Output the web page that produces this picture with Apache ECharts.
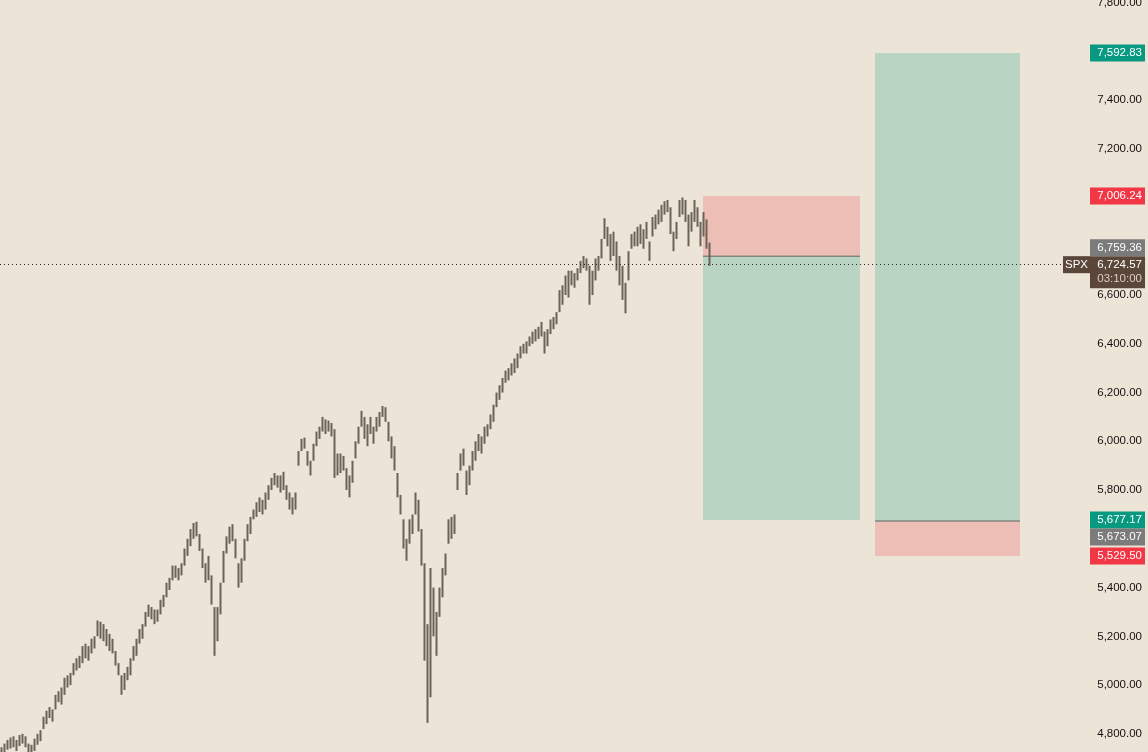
<!DOCTYPE html>
<html><head><meta charset="utf-8">
<script src="https://cdn.jsdelivr.net/npm/echarts@6/dist/echarts.min.js"></script>
<style>html,body{margin:0;padding:0;background:#ece4d7;}#c{width:1148px;height:752px;}</style>
</head><body><div id="c"></div>
<script>
// ---- data ----
const symbol = 'SPX';
const lastPrice = 6724.57;
const countdown = '03:10:00';
const lows = [4700,4715,4735,4740,4745,4730,4750,4760,4745,4715,4705,4730,4755,4770,4820,4840,4865,4850,4900,4930,
4920,4960,4990,5000,5040,5060,5070,5090,5110,5100,5130,5150,5200,5190,5180,5160,5140,5130,5080,5040,
4960,4980,5020,5040,5100,5120,5170,5190,5240,5280,5270,5250,5260,5290,5320,5360,5390,5430,5440,5430,
5450,5490,5530,5570,5600,5610,5550,5480,5420,5430,5330,5120,5180,5290,5420,5540,5580,5590,5520,5400,
5420,5510,5590,5620,5680,5690,5710,5700,5720,5760,5800,5820,5810,5790,5800,5760,5720,5700,5720,5900,
5960,5970,5900,5860,5920,5980,6010,6040,6030,6040,6020,5850,5860,5870,5880,5800,5770,5830,5930,5990,
6060,6010,5980,6030,5990,6040,6060,6100,6080,6000,5930,5880,5770,5700,5560,5510,5580,5620,5700,5630,
5490,5100,4845,4950,5200,5120,5280,5360,5450,5580,5600,5620,5800,5880,5900,5780,5820,5880,5920,5960,
5950,5990,6020,6050,6080,6140,6170,6200,6240,6250,6270,6280,6300,6340,6360,6360,6390,6400,6410,6420,
6430,6360,6390,6440,6460,6480,6530,6560,6600,6590,6640,6630,6660,6690,6710,6700,6560,6600,6660,6700,
6750,6830,6800,6740,6760,6700,6640,6580,6525,6660,6790,6800,6800,6810,6790,6830,6740,6840,6870,6890,
6900,6930,6940,6850,6780,6830,6920,6930,6900,6800,6860,6900,6880,6800,6840,6790,6720];
const highs = [4745,4760,4775,4785,4790,4775,4795,4800,4790,4760,4755,4780,4800,4815,4870,4895,4910,4900,4960,4975,
4990,5030,5040,5050,5090,5110,5120,5160,5170,5160,5190,5200,5265,5260,5250,5230,5210,5190,5140,5090,
5040,5050,5075,5110,5160,5190,5230,5250,5300,5330,5320,5310,5310,5350,5370,5420,5440,5490,5490,5480,
5500,5560,5600,5640,5665,5670,5620,5560,5500,5530,5450,5320,5320,5420,5550,5610,5650,5660,5600,5500,
5520,5600,5660,5690,5720,5750,5770,5760,5790,5820,5850,5870,5860,5860,5875,5820,5790,5770,5790,5960,
6010,6015,5960,5920,5990,6040,6060,6100,6090,6085,6075,6050,5950,5950,5940,5890,5860,5920,6000,6060,
6125,6100,6070,6100,6060,6100,6120,6145,6140,6080,6020,5980,5870,5780,5680,5600,5680,5700,5790,5760,
5640,5500,5250,5480,5400,5300,5400,5480,5540,5680,5690,5700,5870,5950,5970,5880,5900,5960,6000,6030,
6020,6060,6070,6110,6150,6200,6230,6260,6290,6300,6320,6340,6360,6390,6400,6410,6430,6450,6460,6470,
6490,6450,6460,6500,6510,6530,6620,6640,6680,6700,6700,6690,6710,6740,6760,6750,6720,6700,6750,6760,
6830,6915,6880,6850,6860,6820,6760,6720,6650,6780,6850,6860,6880,6890,6870,6900,6820,6920,6930,6950,
6970,6985,6990,6960,6860,6900,6990,7000,6990,6930,6940,6990,6960,6900,6940,6910,6815];
// position tools: time span in bar slots, price levels
const shortStart = 234.33, shortEnd = 286.67;
const shortEntry = 6759.36, shortStop = 7006.24, shortTarget = 5677.17;
const longStart = 291.67, longEnd = 340;
const longEntry = 5673.07, longStop = 5529.50, longTarget = 7592.83;
const totalSlots = 354;
const yMin = 4600, yMax = 7800, yStep = 200;

// ---- build ----
const bg = '#ece4d7';
const barColor = '#6c6357';
const slots = Array.from({length: totalSlots}, (_, i) => String(i));
const candles = lows.map((lo, i) => [lo, highs[i], lo, highs[i]]);
const fmt = v => v.toLocaleString('en-US', {minimumFractionDigits: 2, maximumFractionDigits: 2});
const boxes = [
  [shortStart, shortEnd, shortEntry, shortStop, 'rgba(242,54,69,0.22)'],
  [shortStart, shortEnd, shortTarget, shortEntry, 'rgba(8,153,129,0.22)'],
  [longStart, longEnd, longEntry, longTarget, 'rgba(8,153,129,0.22)'],
  [longStart, longEnd, longStop, longEntry, 'rgba(242,54,69,0.22)']
];
const entries = [[shortStart, shortEnd, shortEntry], [longStart, longEnd, longEntry]];

const chart = echarts.init(document.getElementById('c'), null, {renderer: 'canvas'});
const FONT = '"Liberation Sans", Arial, sans-serif';
chart.setOption({
  backgroundColor: bg,
  animation: false,
  grid: {left: 0, right: 86, top: 2.5, height: 780.1, containLabel: false, outerBoundsMode: 'none'},
  xAxis: [
    {type: 'category', data: slots, show: false, boundaryGap: true},
    {type: 'value', min: 0, max: totalSlots, show: false}
  ],
  yAxis: {
    type: 'value', position: 'right', min: yMin, max: yMax, interval: yStep,
    splitLine: {show: false}, axisLine: {show: false}, axisTick: {show: false},
    axisLabel: {formatter: v => fmt(v), color: '#131110', fontSize: 11.5, fontFamily: FONT, align: 'right', margin: 80}
  },
  series: [
    {
      type: 'custom', xAxisIndex: 1, z: 1,
      data: boxes,
      renderItem: (params, api) => {
        const a = api.coord([api.value(0), api.value(3)]);
        const b = api.coord([api.value(1), api.value(2)]);
        return {type: 'rect', shape: {x: a[0], y: a[1], width: b[0] - a[0], height: b[1] - a[1]},
          style: {fill: boxes[params.dataIndex][4]}};
      }
    },
    {
      type: 'custom', xAxisIndex: 1, z: 2,
      data: entries,
      renderItem: (params, api) => {
        const a = api.coord([api.value(0), api.value(2)]);
        const b = api.coord([api.value(1), api.value(2)]);
        return {type: 'line', shape: {x1: a[0], y1: a[1], x2: b[0], y2: b[1]},
          style: {stroke: '#5f6560', lineWidth: 1}};
      }
    },
    {
      type: 'candlestick', z: 3, data: candles, barWidth: 2,
      itemStyle: {color: barColor, color0: barColor, borderColor: barColor, borderColor0: barColor, borderWidth: 0},
      markLine: {
        silent: true, symbol: 'none', label: {show: false},
        lineStyle: {color: '#2f2620', type: [1, 3], width: 1},
        data: [{yAxis: lastPrice}]
      }
    }
  ]
});

// ---- price tags on the axis ----
const W = chart.getWidth();
const axisX = W - 86;
const tagX = axisX + 28, tagW = 55, tagH = 17;
const yOf = v => chart.convertToPixel({yAxisIndex: 0}, v);
const placed = [];
const graphics = [];
const font = '11.5px ' + FONT;
const py = yOf(lastPrice);
const pTop = py - 8.5, pH = 32;
placed.push([pTop, pTop + pH]);
graphics.push({type: 'rect', shape: {x: axisX + 1, y: pTop, width: tagX - axisX - 1, height: tagH}, style: {fill: '#5b463a'}, z: 100});
graphics.push({type: 'text', x: (axisX + 1 + tagX) / 2, y: pTop + tagH / 2, style: {text: symbol, fill: '#fff', font: font, align: 'center', verticalAlign: 'middle'}, z: 101});
graphics.push({type: 'rect', shape: {x: tagX, y: pTop, width: tagW, height: pH}, style: {fill: '#5b463a'}, z: 100});
graphics.push({type: 'text', x: tagX + tagW - 3, y: pTop + 8.5, style: {text: fmt(lastPrice), fill: '#fff', font: font, align: 'right', verticalAlign: 'middle'}, z: 101});
graphics.push({type: 'text', x: tagX + tagW - 3, y: pTop + 23, style: {text: countdown, fill: '#d9cfc4', font: font, align: 'right', verticalAlign: 'middle'}, z: 101});
const tags = [
  [longTarget, '#089981'], [shortStop, '#f23645'], [shortTarget, '#089981'], [longStop, '#f23645'],
  [shortEntry, '#7b7b7b'], [longEntry, '#7b7b7b']
];
tags.forEach(([v, col]) => {
  let top = yOf(v) - tagH / 2;
  for (let k = 0; k < 4; k++) {
    const hit = placed.find(p => top < p[1] && top + tagH > p[0]);
    if (!hit) break;
    const centerOther = (hit[0] + hit[1]) / 2;
    top = (top + tagH / 2 < centerOther) ? hit[0] - tagH : hit[1];
  }
  placed.push([top, top + tagH]);
  graphics.push({type: 'rect', shape: {x: tagX, y: top, width: tagW, height: tagH}, style: {fill: col}, z: 100});
  graphics.push({type: 'text', x: tagX + tagW - 3, y: top + tagH / 2, style: {text: fmt(v), fill: '#fff', font: font, align: 'right', verticalAlign: 'middle'}, z: 101});
});
chart.setOption({graphic: graphics});
</script></body></html>
